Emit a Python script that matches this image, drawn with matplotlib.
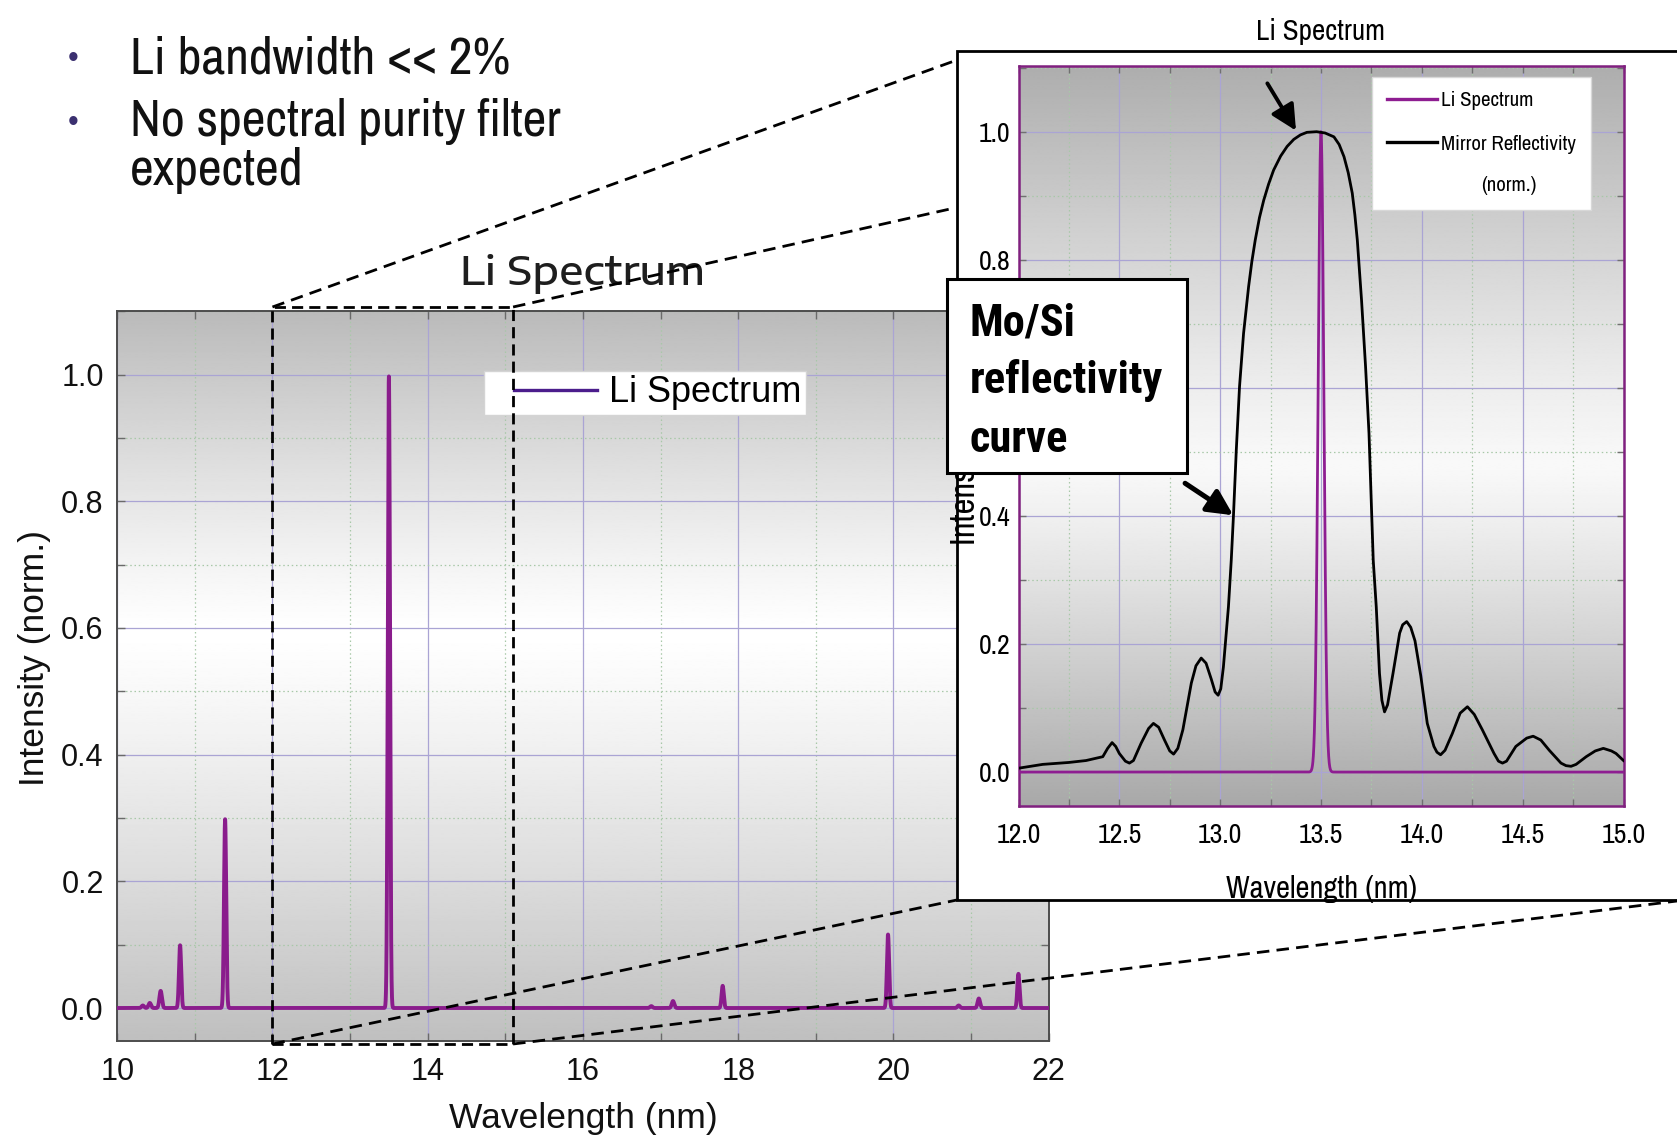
import numpy as np
import matplotlib
matplotlib.use("Agg")
import matplotlib.pyplot as plt
from matplotlib.patches import Rectangle
from matplotlib.lines import Line2D
from matplotlib.legend_handler import HandlerLine2D
from matplotlib.ticker import MultipleLocator

SANS = ['Liberation Sans', 'DejaVu Sans']
NARROW = ['Archivo Narrow', 'Liberation Sans', 'DejaVu Sans']
NARROW_BOLD = ['Roboto Condensed', 'IBM Plex Sans Condensed', 'Liberation Sans', 'DejaVu Sans']
WIDE = ['Encode Sans Expanded', 'DejaVu Sans']
plt.rcParams['font.family'] = SANS

# ---------------- data ----------------
peak_wavelength = [10.33, 10.42, 10.56, 10.81, 11.39, 13.50, 16.88, 17.16, 17.80, 19.93, 20.84, 21.10, 21.61]
peak_intensity = [0.004, 0.008, 0.027, 0.099, 0.298, 0.997, 0.003, 0.011, 0.035, 0.116, 0.004, 0.015, 0.054]
peak_width = [0.016, 0.016, 0.016, 0.014, 0.014, 0.014, 0.016, 0.016, 0.014, 0.014, 0.016, 0.016, 0.014]

mirror_wavelength = [
    12.000, 12.120, 12.250, 12.335, 12.418, 12.442, 12.464, 12.482, 12.500, 12.530,
    12.550, 12.570, 12.608, 12.645, 12.669, 12.695, 12.724, 12.750, 12.769, 12.790,
    12.815, 12.857, 12.880, 12.906, 12.930, 12.956, 12.975, 12.990, 13.003, 13.016,
    13.041, 13.055, 13.066, 13.080, 13.096, 13.116, 13.141, 13.157, 13.174, 13.195,
    13.216, 13.240, 13.265, 13.300, 13.332, 13.365, 13.398, 13.430, 13.478, 13.520,
    13.564, 13.590, 13.614, 13.635, 13.655, 13.668, 13.680, 13.690, 13.701, 13.721,
    13.738, 13.749, 13.759, 13.774, 13.790, 13.802, 13.815, 13.830, 13.857, 13.890,
    13.905, 13.925, 13.945, 13.966, 13.995, 14.027, 14.060, 14.075, 14.093, 14.115,
    14.151, 14.190, 14.226, 14.260, 14.300, 14.358, 14.380, 14.400, 14.420, 14.466,
    14.520, 14.552, 14.590, 14.632, 14.690, 14.715, 14.740, 14.765, 14.815, 14.860,
    14.900, 14.940, 14.963, 15.000]
mirror_reflectivity = [
    0.006, 0.012, 0.015, 0.018, 0.024, 0.037, 0.046, 0.040, 0.029, 0.017,
    0.014, 0.018, 0.045, 0.068, 0.076, 0.070, 0.050, 0.033, 0.028, 0.037,
    0.066, 0.139, 0.166, 0.178, 0.170, 0.145, 0.125, 0.120, 0.130, 0.164,
    0.258, 0.331, 0.401, 0.503, 0.602, 0.685, 0.758, 0.797, 0.831, 0.866,
    0.893, 0.918, 0.940, 0.962, 0.977, 0.988, 0.995, 0.999, 1.000, 0.998,
    0.992, 0.980, 0.961, 0.936, 0.904, 0.870, 0.831, 0.786, 0.737, 0.633,
    0.529, 0.425, 0.331, 0.258, 0.154, 0.112, 0.094, 0.105, 0.154, 0.217,
    0.230, 0.235, 0.226, 0.205, 0.150, 0.076, 0.040, 0.031, 0.027, 0.034,
    0.060, 0.092, 0.102, 0.090, 0.066, 0.029, 0.017, 0.014, 0.017, 0.040,
    0.053, 0.056, 0.050, 0.034, 0.014, 0.010, 0.009, 0.012, 0.024, 0.033,
    0.037, 0.033, 0.029, 0.018]

main_xticks = [10, 12, 14, 16, 18, 20, 22]
main_xticklabels = ["10", "12", "14", "16", "18", "20", "22"]
main_yticks = [0.0, 0.2, 0.4, 0.6, 0.8, 1.0]
main_yticklabels = ["0.0", "0.2", "0.4", "0.6", "0.8", "1.0"]
inset_xticks = [12.0, 12.5, 13.0, 13.5, 14.0, 14.5, 15.0]
inset_xticklabels = ["12.0", "12.5", "13.0", "13.5", "14.0", "14.5", "15.0"]
inset_yticks = [0.0, 0.2, 0.4, 0.6, 0.8, 1.0]
inset_yticklabels = ["0.0", "0.2", "0.4", "0.6", "0.8", "1.0"]
zoom_range = [12.0, 15.1]

bullet_lines = ["Li bandwidth << 2%", "No spectral purity filter", "expected"]
box_lines = ["Mo/Si", "reflectivity", "curve"]

# ---------------- helpers ----------------
W, H = 1677, 1137
fig = plt.figure(figsize=(W / 100, H / 100), dpi=100)
fig.patch.set_facecolor('white')


def px_box(x0, y0, x1, y1):
    return [x0 / W, 1 - y1 / H, (x1 - x0) / W, (y1 - y0) / H]


def fx(x):
    return x / W


def fy(y):
    return 1 - y / H


def shade(ax, t_light, bottom, top, light=1.0, n=600):
    t = np.linspace(0, 1, n)
    g = np.where(t < t_light,
                 light - (light - bottom) * (np.clip(t_light - t, 0, None) / t_light) ** 1.15,
                 light - (light - top) * (np.clip(t - t_light, 0, None) / (1 - t_light)) ** 1.15)
    ax.imshow(g[:, None], extent=(0, 1, 0, 1), transform=ax.transAxes, origin='lower',
              cmap='gray', vmin=0, vmax=1, aspect='auto', interpolation='bilinear', zorder=-10)


def spectrum(wl):
    out = np.zeros_like(wl)
    for c, h, w in zip(peak_wavelength, peak_intensity, peak_width):
        out += h * np.exp(-0.5 * ((wl - c) / w) ** 2)
    return out


class PlacedLineHandler(HandlerLine2D):
    def __init__(self, xstart=0.0, yshift=0.0, color=None, lw=None, **kw):
        super().__init__(**kw)
        self._xstart = xstart
        self._yshift = yshift
        self._color = color
        self._lw = lw

    def create_artists(self, legend, orig_handle, xdescent, ydescent, width, height, fontsize, trans):
        arts = super().create_artists(legend, orig_handle, xdescent, ydescent, width, height, fontsize, trans)
        for a in arts:
            if not isinstance(a, Line2D):
                continue
            xd = np.asarray(a.get_xdata(), float)
            yd = np.asarray(a.get_ydata(), float)
            if xd.size == 0:
                continue
            x0, x1 = xd.min(), xd.max()
            if x1 > x0:
                a.set_xdata(x0 + self._xstart * (x1 - x0) + (xd - x0) * (1 - self._xstart))
            a.set_ydata(yd + self._yshift * fontsize)
            if self._color is not None:
                a.set_color(self._color)
            if self._lw is not None:
                a.set_linewidth(self._lw)
        return arts


def style_axes(a, major_grid, minor_grid):
    a.set_axisbelow(True)
    a.grid(True, which='major', color=major_grid, lw=0.9)
    a.grid(True, which='minor', color=minor_grid, lw=0.9, ls=(0, (1.2, 2.2)))


# ---------------- main chart ----------------
ax = fig.add_axes(px_box(117.2, 310.8, 1048.7, 1040.7), zorder=0)
shade(ax, 0.56, 0.75, 0.73)
wl = np.linspace(10, 22, 24001)
main_line, = ax.plot(wl, spectrum(wl), color='#8a1c8c', lw=2.8, solid_joinstyle='round',
                     zorder=3, label='Li Spectrum')
ax.set_xlim(10, 22)
ax.set_ylim(-0.0516, 1.1006)
ax.set_xticks(main_xticks, labels=main_xticklabels)
ax.set_yticks(main_yticks, labels=main_yticklabels)
ax.xaxis.set_minor_locator(MultipleLocator(1))
ax.yaxis.set_minor_locator(MultipleLocator(0.1))
ax.tick_params(which='both', direction='in', top=True, right=True, color='#6a6a6a',
               width=1.0, length=5.5)
ax.tick_params(axis='x', which='major', pad=11.5, labelsize=22, labelcolor='#111111')
ax.tick_params(axis='y', which='major', pad=9.7, labelsize=22, labelcolor='#111111')
style_axes(ax, '#aaa4d4', '#a8c8a8')
for s in ax.spines.values():
    s.set_color('#4d4d4d')
    s.set_linewidth(1.4)

ax.set_xlabel('Wavelength (nm)', fontsize=25.5, color='#111111')
ax.xaxis.set_label_coords(0.5, -0.1196)
ax.xaxis.label.set_va('baseline')
ax.set_ylabel('Intensity (norm.)', fontsize=25.5, color='#111111')
ax.yaxis.set_label_coords(-0.0788, 0.5247)
ax.yaxis.label.set_va('baseline')
ax.set_title('Li Spectrum', fontsize=29, family=WIDE, weight=500, pad=18.5, color='#1e1e1e')

leg = ax.legend(handles=[main_line], loc='upper left', bbox_to_anchor=(0.3943, 0.9174),
                borderaxespad=0, prop={'family': SANS, 'size': 26}, frameon=True,
                fancybox=False, framealpha=1, edgecolor='#d4d4d4', borderpad=0.12,
                handlelength=2.99, handletextpad=0.35,
                handler_map={main_line: PlacedLineHandler(xstart=0.237, color='#4b1d8c', lw=2.4)})
leg.get_frame().set_linewidth(1.0)

# ---------------- inset (zoom) chart ----------------
fig.add_artist(Rectangle((fx(956.9), fy(900)), (1700 - 956.9) / W, (900 - 50.5) / H,
                         transform=fig.transFigure, facecolor='white', edgecolor='black',
                         lw=2.0, zorder=1))

axi = fig.add_axes(px_box(1018.5, 66, 1623.5, 806), zorder=2)
shade(axi, 0.46, 0.66, 0.68, light=0.975)
wli = np.linspace(12, 15, 12001)
spec_i = spectrum(wli)
spec_i = spec_i / spec_i.max()
li_line, = axi.plot(wli, spec_i, color='#8e1d91', lw=2.0, zorder=3, label='Li Spectrum')
mir_line, = axi.plot(mirror_wavelength, mirror_reflectivity, color='black', lw=2.0,
                     solid_joinstyle='round', zorder=4, label='Mirror Reflectivity\n(norm.)')
axi.set_xlim(12, 15)
axi.set_ylim(-0.053, 1.1026)
axi.set_xticks(inset_xticks, labels=inset_xticklabels)
axi.set_yticks(inset_yticks, labels=inset_yticklabels)
axi.xaxis.set_minor_locator(MultipleLocator(0.25))
axi.yaxis.set_minor_locator(MultipleLocator(0.1))
axi.tick_params(which='both', direction='in', top=True, right=True, color='#707070',
                width=1.0, length=5)
axi.tick_params(axis='x', which='major', pad=12.0, labelsize=20)
axi.tick_params(axis='y', which='major', pad=5.8, labelsize=20)
for t in axi.get_xticklabels() + axi.get_yticklabels():
    t.set_fontfamily(NARROW)
style_axes(axi, '#aaa4d4', '#a8c8a8')
for s in axi.spines.values():
    s.set_color('#80207f')
    s.set_linewidth(1.8)

axi.set_title('Li Spectrum', fontsize=21, family=NARROW, pad=18.7)
axi.set_xlabel('Wavelength (nm)', fontsize=22, family=NARROW)
axi.xaxis.set_label_coords(0.501, -0.1243)
axi.xaxis.label.set_va('baseline')
axi.set_ylabel('Intensity (norm.)', fontsize=25, family=NARROW)
axi.yaxis.set_label_coords(-0.0719, 0.3527)
axi.yaxis.label.set_va('baseline')
axi.yaxis.label.set_ha('left')

leg2 = axi.legend(handles=[li_line, mir_line], loc='upper left', bbox_to_anchor=(0.5848, 0.9855),
                  borderaxespad=0, prop={'family': NARROW, 'size': 15}, frameon=True,
                  fancybox=False, framealpha=1, edgecolor='#d8d8d8', borderpad=0.7,
                  handlelength=2.4, handletextpad=0.2, labelspacing=1.2,
                  handler_map={li_line: PlacedLineHandler(lw=2.4),
                               mir_line: PlacedLineHandler(yshift=1.1, lw=2.4)})
leg2.get_frame().set_linewidth(1.0)
leg2.get_texts()[1].set_multialignment('center')
leg2.get_texts()[1].set_linespacing(2.45)

axi.annotate('', xy=(13.376, 1.0017), xytext=(13.234, 1.0755),
             arrowprops=dict(arrowstyle='-|>,head_length=0.7,head_width=0.35', color='black',
                             lw=2.8, shrinkA=0, shrinkB=0, mutation_scale=22),
             annotation_clip=False, zorder=6)
axi.annotate('', xy=(13.065, 0.401), xytext=(12.826, 0.451),
             arrowprops=dict(arrowstyle='-|>,head_length=0.7,head_width=0.35', color='black',
                             lw=3.6, shrinkA=0, shrinkB=0, mutation_scale=22),
             annotation_clip=False, zorder=6)

# ---------------- callout box ----------------
fig.add_artist(Rectangle((fx(947.3), fy(472.7)), (1187.3 - 947.3) / W, (472.7 - 279) / H,
                         transform=fig.transFigure, facecolor='white', edgecolor='black',
                         lw=2.2, zorder=3))
for txt, yb in zip(box_lines, [335, 393.3, 451.7]):
    fig.text(fx(969.3), fy(yb), txt, family=NARROW_BOLD, weight='bold', size=32,
             ha='left', va='baseline', zorder=4)

# ---------------- zoom indicator (dashed) ----------------
inv = fig.transFigure.inverted()


def main_to_fig(x, y):
    return inv.transform(ax.transData.transform((x, y)))


tl = main_to_fig(zoom_range[0], 1.1066)
tr = main_to_fig(zoom_range[1], 1.1066)
bl = main_to_fig(zoom_range[0], -0.0568)
br = main_to_fig(zoom_range[1], -0.0568)
dash = dict(color='black', lw=2.0, ls=(0, (4.5, 2.6)), transform=fig.transFigure, zorder=1.5)
fig.add_artist(Rectangle(bl, br[0] - bl[0], tl[1] - bl[1], fill=False, edgecolor='black',
                         lw=2.0, ls=(0, (4.0, 2.2)), transform=fig.transFigure, zorder=1.5))
fig.add_artist(Line2D([tl[0], fx(957)], [tl[1], fy(60)], **dash))
fig.add_artist(Line2D([tr[0], fx(950)], [tr[1], fy(209)], **dash))
fig.add_artist(Line2D([bl[0], fx(956.9)], [bl[1], fy(900)], **dash))
fig.add_artist(Line2D([br[0], fx(1677)], [br[1], fy(901)], **dash))

# ---------------- bullet text ----------------
for txt, yb in zip(bullet_lines, [73.4, 136, 185]):
    fig.text(fx(130.2), fy(yb), txt, family=NARROW, size=37.5, ha='left', va='baseline',
             color='#111111')
for yb in [67.1, 131.3]:
    fig.text(fx(72.7), fy(yb), '\u2022', family=SANS, size=22, ha='center', va='baseline',
             color='#3b3070')

fig.savefig('out.png', dpi=100, facecolor='white')
